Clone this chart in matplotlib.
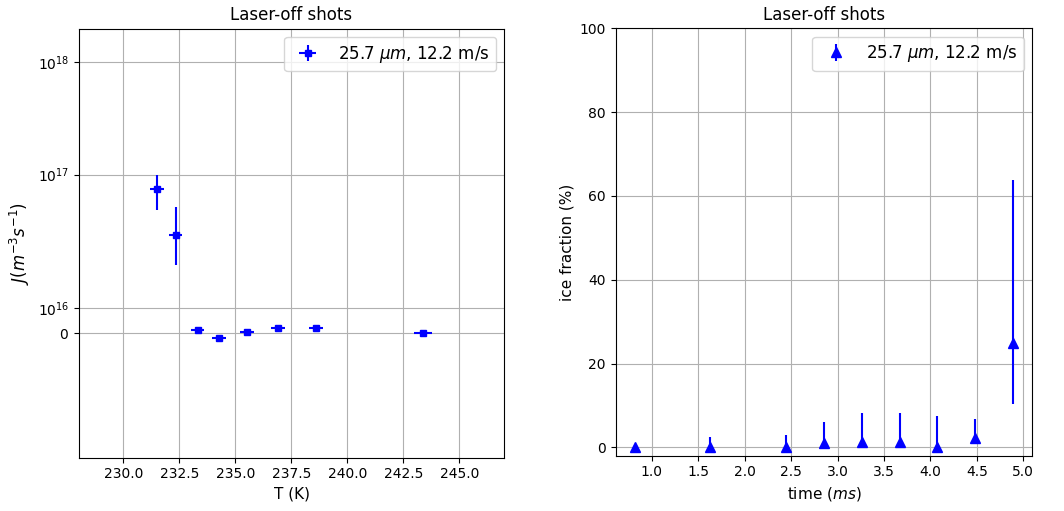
import matplotlib
matplotlib.use("Agg")
import matplotlib.pyplot as plt
import numpy as np

# ---- left panel: nucleation rate vs temperature ----
T = [231.5, 232.33, 233.31, 234.26, 235.51, 236.9, 238.59, 243.37]
T_err = [0.3, 0.3, 0.3, 0.3, 0.3, 0.3, 0.3, 0.4]
J = [7.4e16, 3.95e16, 1.4e15, -1.85e15, 4e14, 1.9e15, 1.9e15, 0.0]
J_err = [2.45e16, 1.2e16, 1e15, 1e15, 1e15, 1e15, 1e15, 5e14]

# ---- right panel: ice fraction vs time ----
t_ms = [0.815, 1.63, 2.445, 2.85, 3.26, 3.67, 4.075, 4.48, 4.89]
ice = [0.0, 0.0, 0.0, 0.95, 1.3, 1.2, 0.0, 2.2, 25.0]
ice_lo = [0.0, 0.0, 0.0, 0.95, 1.3, 1.2, 0.0, 1.5, 14.6]
ice_hi = [0.5, 2.5, 2.9, 5.2, 6.9, 7.0, 7.5, 4.5, 38.8]

label = r'25.7 $\mu m$, 12.2 m/s'

fig = plt.figure(figsize=(10.64, 5.11), dpi=100)
ax1 = fig.add_axes([78.7 / 1064, 1 - 457.7 / 511, 425.6 / 1064, 429 / 511])
ax2 = fig.add_axes([615.7 / 1064, 1 - 455.7 / 511, 416.3 / 1064, 427.4 / 511])

ax1.errorbar(T, J, yerr=J_err, xerr=T_err, fmt='s', color='blue',
             markersize=5, label=label)
ax1.set_yscale('symlog', linthresh=5e16, linscale=1)
ax1.set_xlim(228, 247)
ax1.set_ylim(-5e16, 2e18)
ax1.set_xlabel("T (K)", fontsize=11)
ax1.set_ylabel(r'$J(m^{-3}s^{-1})$', fontsize=12)
ax1.set_title("Laser-off shots", fontsize=12)
ax1.grid(True)
ax1.legend(loc='upper right', fontsize=12)

ax2.errorbar(t_ms, ice, yerr=[ice_lo, ice_hi], fmt='^', color='blue',
             markersize=7, label=label)
ax2.set_ylim(-2, 100)
ax2.set_xlabel(r'time ($ms$)', fontsize=11)
ax2.set_ylabel("ice fraction (%)", fontsize=11)
ax2.set_title("Laser-off shots", fontsize=12)
ax2.grid(True)
ax2.legend(loc='upper right', fontsize=12)

plt.savefig("out.png", dpi=100)
